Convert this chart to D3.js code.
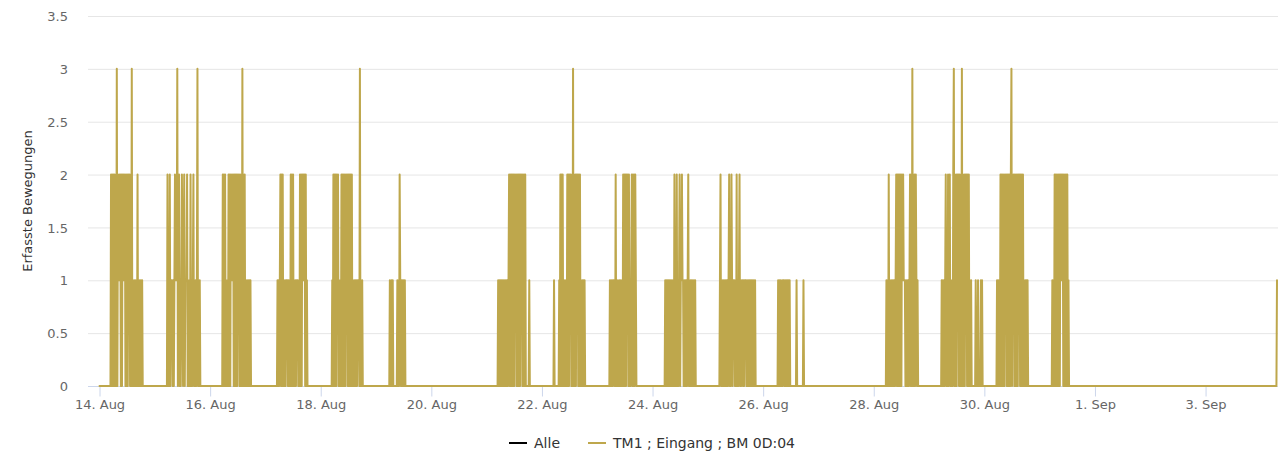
<!DOCTYPE html>
<html>
<head>
<meta charset="utf-8">
<script src="https://cdn.jsdelivr.net/npm/d3@7"></script>
<style>
    body { margin: 0; background: #fff; }
    text { font-family: "DejaVu Sans", sans-serif; }
</style>
</head>
<body>
<svg id="chart" width="1278" height="453"></svg>
<script>
// y axis ticks
let yTicks = [0, 0.5, 1, 1.5, 2, 2.5, 3, 3.5]
// x axis ticks (every 2 days)
let xTicks = ["2019-08-14", "2019-08-16", "2019-08-18", "2019-08-20", "2019-08-22", "2019-08-24",
    "2019-08-26", "2019-08-28", "2019-08-30", "2019-09-01", "2019-09-03"]

// series names in legend
let seriesNames = ["Alle", "TM1 ; Eingang ; BM 0D:04"]

// recorded movements: one digit per 15 min from burstStart (groups of 4 = 1 hour), 0 everywhere else
let seriesStart = "2019-08-14T00:00"
let seriesEnd = "2019-09-04T07:00"
let burstStart = [
    "2019-08-14T05:00", "2019-08-15T05:00", "2019-08-16T05:00", "2019-08-17T05:00",
    "2019-08-18T05:00", "2019-08-19T06:00", "2019-08-21T05:00", "2019-08-22T05:00",
    "2019-08-23T05:00", "2019-08-24T05:00", "2019-08-25T05:00", "2019-08-26T06:00",
    "2019-08-28T05:00", "2019-08-29T05:00", "2019-08-30T05:00", "2019-08-31T05:00",
    "2019-09-04T07:00"
]
let burstValues = [
    "2020 2020 2030 2121 2020 2121 2020 2021 2020 3010 1010 1020 1010 1010 0",
    "0020 1020 1110 1012 1113 0120 1012 1012 0111 2010 1020 1012 0101 0130 1010 0",
    "0020 2020 1010 2020 2121 2020 2020 2120 2020 3020 2010 1010 1010 0",
    "0101 0120 2020 1010 1110 1010 2020 2010 1011 1010 2020 2121 2020 10",
    "1020 2020 2120 1010 2020 2020 2120 2020 2020 1010 1010 1110 3010 10",
    "1001 0100 0000 0101 0210 1010 1010 0",
    "1010 1010 1010 1010 1012 0202 0202 0212 0202 0202 1202 0202 0000 0010",
    "0100 0000 0010 2020 2010 1010 2020 2120 2030 2020 2120 2020 1010 1010 0",
    "0010 1010 1100 2010 1001 0101 0202 0202 1202 0101 2020 2021 0",
    "0010 1010 1010 1010 1020 1020 1012 0112 1101 0101 0120 1010 1010 1010 0",
    "0120 1010 1010 1010 1201 0210 1110 1020 1012 0101 1010 1110 1010 1010 1010 1010 0",
    "0010 1010 0101 1010 1010 1010 0000 0000 0010 0000 0000 0010 0",
    "0010 1020 1010 1010 1012 0202 0202 0212 1110 1010 1012 0203 0202 0210 10",
    "0010 1010 1201 0201 2010 1023 0202 0212 0202 0302 0202 1202 0201 0100 0000 0100 0100 0010 1000",
    "0010 1010 2020 2020 2120 2020 2023 0212 0202 0202 1202 0202 0101 0101 0",
    "0010 1020 2020 2020 2121 2020 2020 2010 0",
    "1"
]

let seriesColors = ["#000000", "#bea74c"]
let width = 1278
let height = 453
let margin = { left: 88, right: 1, top: 16, bottom: 67 }

let parse = s => Date.parse(s + ":00Z")
let step = 15 * 60 * 1000

// build series
let known = new Map()
burstStart.forEach(function (s, i) {
    let t = parse(s)
    for (let ch of burstValues[i].replace(/ /g, "")) {
        known.set(t, +ch)
        t += step
    }
})
let data = []
for (let t = parse(seriesStart); t <= parse(seriesEnd); t += step) {
    data.push({ t: t, v: known.has(t) ? known.get(t) : 0 })
}

let svg = d3.select("#chart")

let xScale = d3.scaleUtc()
    .domain([Date.UTC(2019, 7, 13, 19), parse(seriesEnd)])
    .range([margin.left, width - margin.right])
let yScale = d3.scaleLinear()
    .domain([0, 3.5])
    .range([height - margin.bottom, margin.top])

// grid
svg.append("g")
    .selectAll("line")
    .data(yTicks.filter(d => d > 0))
    .enter().append("line")
    .attr("x1", margin.left)
    .attr("x2", width)
    .attr("y1", d => yScale(d) + 0.5)
    .attr("y2", d => yScale(d) + 0.5)
    .attr("stroke", "#e6e6e6")
    .attr("stroke-width", 1)

// x axis
let xAxis = svg.append("g")
    .attr("transform", "translate(0," + (yScale(0) + 0.5) + ")")
    .call(d3.axisBottom(xScale)
        .tickValues(xTicks.map(d => new Date(d + "T00:00:00Z")))
        .tickFormat(d3.utcFormat("%-d. %b"))
        .tickSize(10)
        .tickSizeOuter(0)
        .tickPadding(3))
xAxis.select(".domain").attr("stroke", "#ccd6eb").attr("d", "M" + margin.left + ",0H" + width)
xAxis.selectAll(".tick line").attr("stroke", "#ccd6eb")
xAxis.selectAll("text")
    .attr("fill", "#666")
    .style("font-size", "13px")

// y axis
let yAxis = svg.append("g")
    .attr("transform", "translate(" + margin.left + ",0)")
    .call(d3.axisLeft(yScale).tickValues(yTicks).tickFormat(d3.format("")).tickSize(0).tickPadding(20))
yAxis.select(".domain").remove()
yAxis.selectAll("text")
    .attr("fill", "#666")
    .attr("dy", "0.36em")
    .style("font-size", "13px")

// y title
svg.append("text")
    .attr("transform", "rotate(-90)")
    .attr("x", -(yScale(0) + yScale(3.5)) / 2)
    .attr("y", 32)
    .attr("text-anchor", "middle")
    .attr("fill", "#333")
    .style("font-size", "13px")
    .text("Erfasste Bewegungen")

// series line
let line = d3.line()
    .x(d => xScale(d.t))
    .y(d => yScale(d.v))

svg.append("path")
    .datum(data)
    .attr("fill", "none")
    .attr("stroke", seriesColors[1])
    .attr("stroke-width", 2)
    .attr("stroke-linejoin", "round")
    .attr("stroke-linecap", "round")
    .attr("d", line)

// legend
let legend = svg.append("g")
let lx = 0
seriesNames.forEach(function (name, i) {
    let item = legend.append("g").attr("transform", "translate(" + lx + ",0)")
    item.append("line")
        .attr("x1", 0).attr("x2", 18)
        .attr("y1", 0).attr("y2", 0)
        .attr("stroke", seriesColors[i])
        .attr("stroke-width", 2)
    let t = item.append("text")
        .attr("x", 25)
        .attr("y", 5)
        .attr("fill", "#333")
        .style("font-size", "14px")
        .text(name)
    lx += 25 + t.node().getComputedTextLength() + 28
})
let legendW = lx - 28
legend.attr("transform", "translate(" + (652 - legendW / 2) + ",443)")
</script>
</body>
</html>
